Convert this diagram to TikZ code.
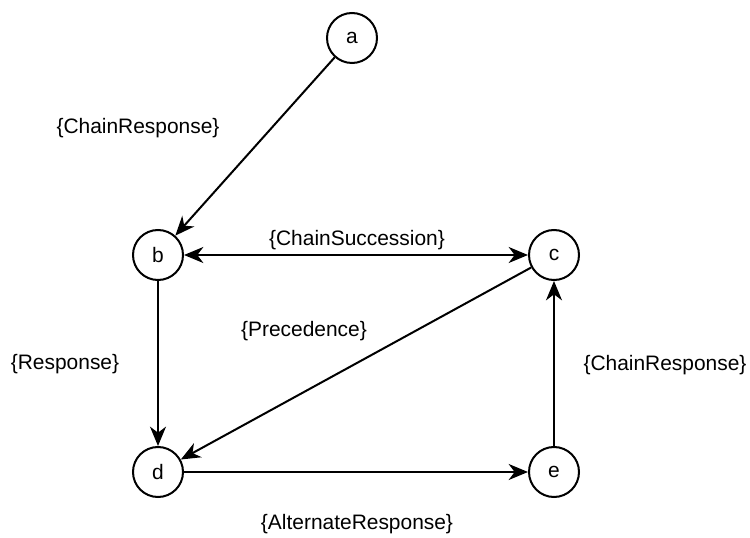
\documentclass[tikz,border=0pt]{standalone}
\usepackage{fontspec}
\setmainfont{Liberation Sans}
\usepackage{tikz}
\usetikzlibrary{arrows.meta}
\usetikzlibrary{positioning}

\begin{document}
\begin{tikzpicture}[x=0.75pt, y=-0.75pt, >= {Stealth[length=14.5pt, width=12pt, inset=4.5pt]}, line width=1.5pt, state/.style ={circle,draw,black,text=black,minimum size=37.5pt,inner sep=0pt}, lbl/.style={text=black}]
\useasboundingbox (0,0) rectangle (750,538);
\fontsize{15.7}{18}\selectfont
\node[state] (a) at (352,38) {a};
\node[state] (b) at (158,255) {b};
\node[state] (c) at (554,255) {c};
\node[state] (d) at (158,472) {d};
\node[state] (e) at (554,472) {e};
% labels
\node[lbl] (lab) at (138,128) {\{ChainResponse\}};
\node[lbl] (lbc) at (357,240) {\{ChainSuccession\}};
\node[lbl] (lcd) at (304,331) {\{Precedence\}};
\node[lbl] (lbd) at (65,364) {\{Response\}};
\node[lbl] (lec) at (665,365) {\{ChainResponse\}};
\node[lbl] (lde) at (357,524) {\{AlternateResponse\}};
\draw[->] (a) -- (b);
\draw[<->] (b) -- (c);
\draw[->] (c) -- (d);
\draw[->] (b) -- (d);
\draw[->] (d) -- (e);
\draw[->] (e) -- (c);
\end{tikzpicture}
\end{document}
